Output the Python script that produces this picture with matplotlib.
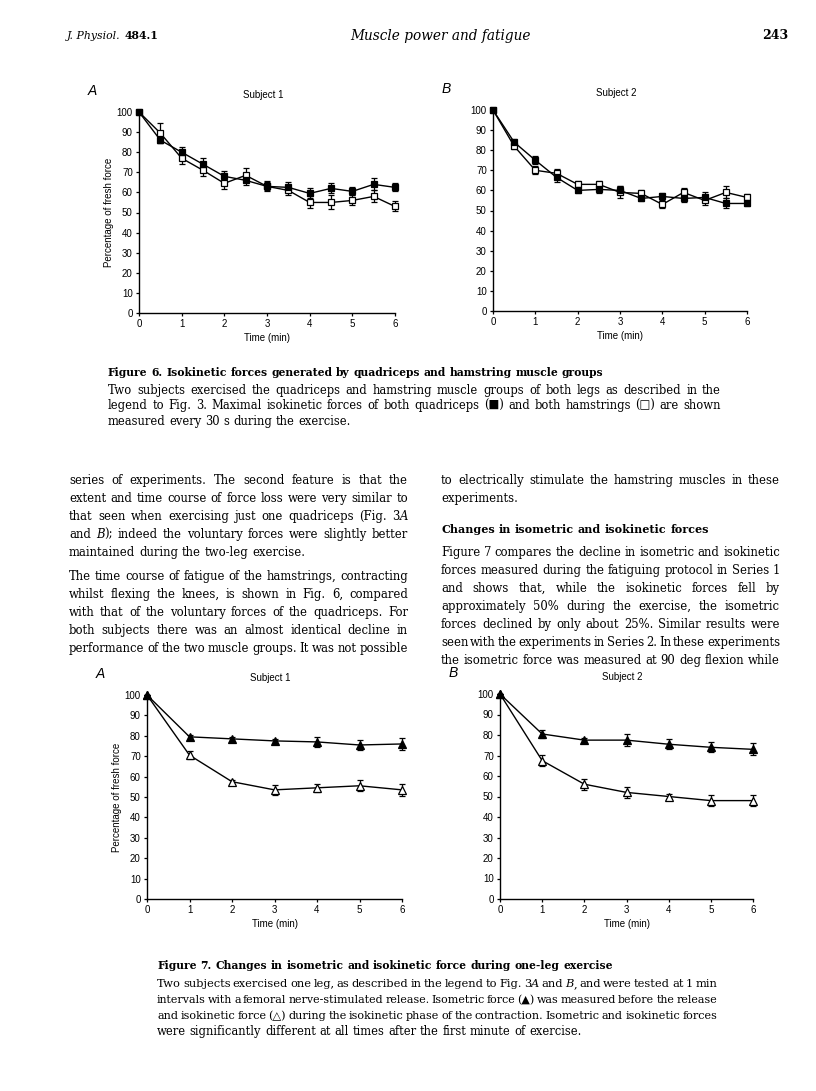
#!/usr/bin/env python3
import re

import matplotlib
matplotlib.use('Agg')
import matplotlib.pyplot as plt
import numpy as np


# +
# data
# -
T_HALF = [0, 0.5, 1, 1.5, 2, 2.5, 3, 3.5, 4, 4.5, 5, 5.5, 6]
T_MIN = [0, 1, 2, 3, 4, 5, 6]

# figure 6: quadriceps (filled) and hamstrings (open)
QUAD_S1 = [100, 86, 80, 74, 68, 66, 63, 62.5, 59.5, 62, 60.5, 64, 62.5]
QUAD_S1_ERR = [0, 1.5, 2.5, 3, 2.5, 2.5, 2, 2.5, 2.5, 2.5, 2, 3, 2]
HAM_S1 = [100, 89.5, 77, 71, 64.5, 68.5, 63, 61, 55, 55, 56, 58, 53]
HAM_S1_ERR = [0, 5, 3, 3, 3, 3.5, 2.5, 2.5, 3, 3.5, 2.5, 3, 2.5]

QUAD_S2 = [100, 84, 75, 66.5, 60, 60.5, 60, 56, 57, 56, 56.5, 53.5, 53.5]
QUAD_S2_ERR = [0, 1.5, 2, 2.5, 1.5, 2, 2, 1.5, 1.5, 2, 2.5, 2.5, 1.5]
HAM_S2 = [100, 82, 70, 68.5, 63, 63, 59, 58.5, 53, 59, 55, 59, 56.5]
HAM_S2_ERR = [0, 1.5, 2, 2, 1.5, 1.5, 3, 1.5, 2, 2, 2.5, 3, 1.5]

# figure 7: isometric (filled) and isokinetic (open)
ISOM_S1 = [100, 79.5, 78.5, 77.5, 77, 75.5, 76]
ISOM_S1_ERR = [0, 1, 1, 1, 2.3, 2.6, 3]
ISOK_S1 = [100, 70.5, 57.5, 53.5, 54.5, 55.5, 53.5]
ISOK_S1_ERR = [0, 2, 1, 2.3, 2, 2.6, 3]

ISOM_S2 = [100, 80.5, 77.5, 77.5, 75.5, 74, 73]
ISOM_S2_ERR = [0, 2, 1, 2.8, 2.4, 2.4, 2.9]
ISOK_S2 = [100, 67.5, 56, 52, 50, 48, 48]
ISOK_S2_ERR = [0, 2.6, 2.6, 2.6, 1, 2.8, 2.6]

Y_TICKS = [0, 10, 20, 30, 40, 50, 60, 70, 80, 90, 100]
X_TICKS = [0, 1, 2, 3, 4, 5, 6]

# page text
CAP6_TITLE = 'Figure 6. Isokinetic forces generated by quadriceps and hamstring muscle groups'
CAP6 = [
    'Two subjects exercised the quadriceps and hamstring muscle groups of both legs as described in the',
    'legend to Fig. 3. Maximal isokinetic forces of both quadriceps (\u25a0) and both hamstrings (\u25a1) are shown',
    'measured every 30 s during the exercise.',
]
LEFT_1 = [
    'series of experiments. The second feature is that the',
    'extent and time course of force loss were very similar to',
    'that seen when exercising just one quadriceps (Fig. 3{A}',
    'and {B}); indeed the voluntary forces were slightly better',
    'maintained during the two-leg exercise.',
]
LEFT_2 = [
    'The time course of fatigue of the hamstrings, contracting',
    'whilst flexing the knees, is shown in Fig. 6, compared',
    'with that of the voluntary forces of the quadriceps. For',
    'both subjects there was an almost identical decline in',
    'performance of the two muscle groups. It was not possible',
]
RIGHT_1 = [
    'to electrically stimulate the hamstring muscles in these',
    'experiments.',
]
RIGHT_HEAD = 'Changes in isometric and isokinetic forces'
RIGHT_2 = [
    'Figure 7 compares the decline in isometric and isokinetic',
    'forces measured during the fatiguing protocol in Series 1',
    'and shows that, while the isokinetic forces fell by',
    'approximately 50% during the exercise, the isometric',
    'forces declined by only about 25%. Similar results were',
    'seen with the experiments in Series 2. In these experiments',
    'the isometric force was measured at 90 deg flexion while',
]
CAP7_TITLE = 'Figure 7. Changes in isometric and isokinetic force during one-leg exercise'
CAP7 = [
    'Two subjects exercised one leg, as described in the legend to Fig. 3{A} and {B}, and were tested at 1 min',
    'intervals with a femoral nerve-stimulated release. Isometric force (\u25b2) was measured before the release',
    'and isokinetic force (\u25b3) during the isokinetic phase of the contraction. Isometric and isokinetic forces',
    'were significantly different at all times after the first minute of exercise.',
]


# +
# constant(s)
# -
W, H = 816, 1091
SANS = ['Liberation Sans', 'DejaVu Sans']
SERIF = ['DejaVu Serif', 'DejaVu Sans']

fig = plt.figure(figsize=(W / 100, H / 100), dpi=100)
renderer = fig.canvas.get_renderer()


def fx(x):
    return x / W


def fy(y):
    return 1.0 - y / H


# +
# function: panel()
# -
def panel(box, t, y_open, e_open, y_fill, e_fill, marker, title, letter, ylabel=None):
    x0, y0, x1, y1 = box
    ax = fig.add_axes([fx(x0), fy(y1), (x1 - x0) / W, (y1 - y0) / H])
    for y, e, face in ((y_open, e_open, 'white'), (y_fill, e_fill, 'black')):
        ax.errorbar(t, y, yerr=e, fmt='none', ecolor='black', elinewidth=0.9,
                    capsize=2.2, capthick=0.9, clip_on=False, zorder=3)
        ax.plot(t, y, color='black', lw=1.0, marker=marker, ms=4.6 if marker == 's' else 5.4,
                mfc=face, mec='black', mew=0.9, clip_on=False, zorder=4)
    ax.set_xlim(0, 6)
    ax.set_ylim(0, 100)
    ax.set_xticks(X_TICKS)
    ax.set_yticks(Y_TICKS)
    for s in ('top', 'right'):
        ax.spines[s].set_visible(False)
    for s in ('left', 'bottom'):
        ax.spines[s].set_linewidth(1.0)
    ax.tick_params(direction='out', length=2.5, width=0.9, pad=2, labelsize=7)
    for lab in ax.get_xticklabels() + ax.get_yticklabels():
        lab.set_family(SANS)
    ax.set_xlabel('Time (min)', fontsize=7, family=SANS, labelpad=3)
    if ylabel:
        ax.set_ylabel(ylabel, fontsize=7, family=SANS, labelpad=2)
    fig.text(fx((x0 + x1) / 2 - 4), fy(y0 - 17), title, fontsize=7, family=SANS,
             ha='center', va='center')
    fig.text(fx(x0 - 51), fy(y0 - 21), letter, fontsize=10, family=SANS, style='italic',
             ha='left', va='center')
    return ax


panel((139, 112, 395, 313), T_HALF, HAM_S1, HAM_S1_ERR, QUAD_S1, QUAD_S1_ERR, 's',
      'Subject 1', 'A', 'Percentage of fresh force')
panel((493, 110, 747, 311), T_HALF, HAM_S2, HAM_S2_ERR, QUAD_S2, QUAD_S2_ERR, 's',
      'Subject 2', 'B')
panel((147, 695, 402, 899), T_MIN, ISOK_S1, ISOK_S1_ERR, ISOM_S1, ISOM_S1_ERR, '^',
      'Subject 1', 'A', 'Percentage of fresh force')
panel((500, 694, 753, 899), T_MIN, ISOK_S2, ISOK_S2_ERR, ISOM_S2, ISOM_S2_ERR, '^',
      'Subject 2', 'B')


# +
# text helpers
# -
def text_width(s, size, weight='normal'):
    t = fig.text(0, 0, s.replace('{', '').replace('}', ''), fontsize=size, family=SERIF, weight=weight)
    w = t.get_window_extent(renderer).width
    t.remove()
    return w


def fit_size(lines, width, base=8.0, slack=0.975):
    # size at which a typical full line fills the column with normal spacing
    typical = np.median([text_width(ln, base) for ln in lines])
    return base * width * slack / typical


def split_words(line):
    words = []
    for w in line.split(' '):
        parts = []
        for seg in re.split(r'(\{[^}]*\})', w):
            if seg:
                parts.append((seg.strip('{}'), 'italic' if seg.startswith('{') else 'normal'))
        words.append(parts)
    return words


def place_words(x0, y, words, size, weight):
    objs, widths = [], []
    for parts in words:
        wobjs, wsum = [], 0.0
        for s, st in parts:
            t = fig.text(fx(x0), fy(y), s, fontsize=size, family=SERIF, style=st,
                         weight=weight, va='baseline', ha='left')
            pw = t.get_window_extent(renderer).width
            wobjs.append((t, pw))
            wsum += pw
        objs.append(wobjs)
        widths.append(wsum)
    return objs, widths


def put_line(x0, x1, y, line, size, justify=True, weight='normal'):
    words = split_words(line)
    objs, widths = place_words(x0, y, words, size, weight)
    space = text_width('a a', size, weight) - text_width('aa', size, weight)
    min_gap = 0.6 * space
    need = sum(widths) + (len(words) - 1) * min_gap
    if need > x1 - x0:
        # too long for the column: set this line slightly smaller
        for wobjs in objs:
            for t, _ in wobjs:
                t.remove()
        size = size * (x1 - x0) / need
        objs, widths = place_words(x0, y, words, size, weight)
        space *= (x1 - x0) / need
    if justify and len(words) > 1:
        gap = (x1 - x0 - sum(widths)) / (len(words) - 1)
    else:
        gap = space
    x = x0
    for wobjs, wsum in zip(objs, widths):
        xx = x
        for t, pw in wobjs:
            t.set_x(fx(xx))
            xx += pw
        x += wsum + gap


def put_par(x0, x1, y, lines, size, step, last_justify=False):
    for i, ln in enumerate(lines):
        put_line(x0, x1, y + i * step, ln, size,
                 justify=(i < len(lines) - 1) or last_justify)


# +
# page header
# -
t1 = fig.text(fx(67), fy(39), 'J. Physiol. ', fontsize=7.8, family=SERIF, style='italic', va='baseline')
w1 = t1.get_window_extent(renderer).width
fig.text(fx(67 + w1), fy(39), '484.1', fontsize=7.8, family=SERIF, weight='bold', va='baseline')
fig.text(fx(440), fy(40), 'Muscle power and fatigue', fontsize=9.8, family=SERIF,
         style='italic', ha='center', va='baseline')
fig.text(fx(788), fy(39), '243', fontsize=9, family=SERIF, weight='bold', ha='right', va='baseline')

# +
# captions and body text
# -
cap_size = fit_size(CAP6[:2] + CAP7[:3], 613)
body_size = fit_size(LEFT_1[:4] + LEFT_2 + RIGHT_1[:1] + RIGHT_2, 339)

put_line(108, 721, 376, CAP6_TITLE, cap_size * 0.93, justify=False, weight='bold')
put_par(108, 721, 394, CAP6, cap_size, 15.3)

put_par(69, 408, 484, LEFT_1, body_size, 18)
put_par(69, 408, 580, LEFT_2, body_size, 18, last_justify=True)
put_par(441, 780, 484, RIGHT_1, body_size, 18)
put_line(441, 780, 533, RIGHT_HEAD, body_size * 0.95, justify=False, weight='bold')
put_par(441, 780, 556, RIGHT_2, body_size, 18, last_justify=True)

put_line(157, 717, 969, CAP7_TITLE, cap_size * 0.93, justify=False, weight='bold')
put_par(157, 717, 987, CAP7, cap_size, 16)

fig.savefig('out.png', dpi=100)
plt.close(fig)
